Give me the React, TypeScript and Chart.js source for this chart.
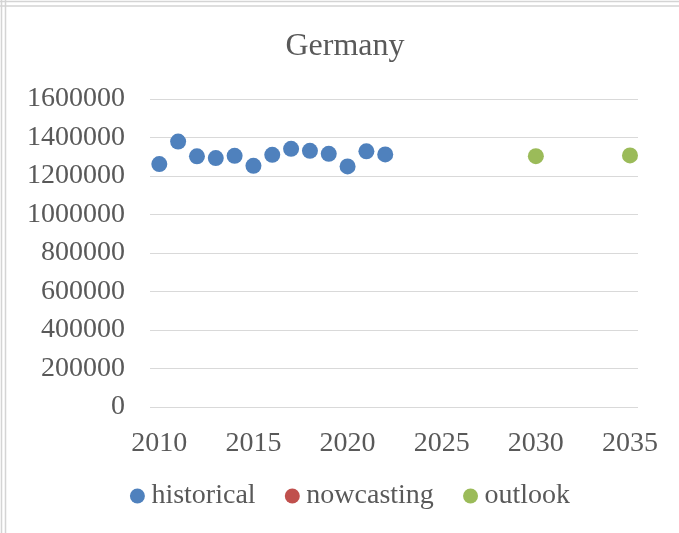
import React, { useEffect, useRef } from "react";
import { Chart, registerables } from "chart.js";

Chart.register(...registerables);

const titleText = "Germany";
const seriesNames = ["historical", "nowcasting", "outlook"];
const seriesColors = ["#4F81BD", "#C0504D", "#9BBB59"];

const historicalYears = [2010, 2011, 2012, 2013, 2014, 2015, 2016, 2017, 2018, 2019, 2020, 2021, 2022];
const historicalValues = [1262000, 1379000, 1302000, 1293000, 1305000, 1253000, 1310000, 1341000, 1331000, 1315000, 1250000, 1328000, 1312000];
const nowcastingYears: number[] = [];
const nowcastingValues: number[] = [];
const outlookYears = [2030, 2035];
const outlookValues = [1303000, 1307000];

const xTicks = [2010, 2015, 2020, 2025, 2030, 2035];
const yTicks = [0, 200000, 400000, 600000, 800000, 1000000, 1200000, 1400000, 1600000];

const FONT = "'Liberation Serif', 'Times New Roman', serif";
const TEXT = "#595959";
const GRID = "#d9d9d9";

const toPoints = (xs: number[], ys: number[]) => xs.map((x, i) => ({ x, y: ys[i] }));

const decorPlugin = {
  id: "decor",
  beforeDraw(chart: any) {
    const ctx = chart.ctx;
    const W = chart.width;
    const H = chart.height;
    ctx.save();
    ctx.fillStyle = "#ffffff";
    ctx.fillRect(0, 0, W, H);
    ctx.strokeStyle = "#d4d4d4";
    ctx.lineWidth = 1.5;
    ctx.beginPath();
    ctx.moveTo(1.5, 0); ctx.lineTo(1.5, H);
    ctx.moveTo(5.5, 0); ctx.lineTo(5.5, H);
    ctx.moveTo(0, 1.5); ctx.lineTo(W, 1.5);
    ctx.moveTo(0, 6); ctx.lineTo(W, 6);
    ctx.stroke();
    ctx.restore();
  },
  afterDraw(chart: any) {
    const ctx = chart.ctx;
    ctx.save();
    // title
    ctx.fillStyle = TEXT;
    ctx.font = `32px ${FONT}`;
    ctx.textAlign = "center";
    ctx.textBaseline = "middle";
    ctx.fillText(titleText, 345, 47);
    // legend
    ctx.font = `28px ${FONT}`;
    ctx.textAlign = "left";
    const r = 7.5;
    const gapText = 14;
    const gapItem = 36.7;
    const widths = seriesNames.map((n) => ctx.measureText(n).width);
    let total = r;
    widths.forEach((w, i) => {
      total += gapText + w;
      if (i < widths.length - 1) total += gapItem;
    });
    const centerX = 350;
    let cx = centerX - total / 2 + r;
    const cy = 496;
    seriesNames.forEach((n, i) => {
      ctx.fillStyle = seriesColors[i];
      ctx.beginPath();
      ctx.arc(cx, cy, r, 0, Math.PI * 2);
      ctx.fill();
      ctx.fillStyle = TEXT;
      ctx.fillText(n, cx + gapText, cy);
      cx = cx + gapText + widths[i] + gapItem;
    });
    ctx.restore();
  },
};

export default function App() {
  const ref = useRef<HTMLCanvasElement | null>(null);
  useEffect(() => {
    document.body.style.margin = "0";
    const canvas = ref.current;
    if (!canvas) return;
    const mk = (label: string, xs: number[], ys: number[], color: string) => ({
      label,
      data: toPoints(xs, ys),
      backgroundColor: color,
      borderColor: color,
      borderWidth: 0,
      pointRadius: 8,
      pointHoverRadius: 8,
      showLine: false,
    });
    const chart = new Chart(canvas, {
      type: "scatter",
      data: {
        datasets: [
          mk(seriesNames[0], historicalYears, historicalValues, seriesColors[0]),
          mk(seriesNames[1], nowcastingYears, nowcastingValues, seriesColors[1]),
          mk(seriesNames[2], outlookYears, outlookValues, seriesColors[2]),
        ],
      },
      options: {
        responsive: false,
        animation: false,
        events: [],
        layout: { padding: { top: 99, right: 41, left: 0, bottom: 0 } },
        plugins: {
          legend: { display: false },
          title: { display: false },
          tooltip: { enabled: false },
        },
        scales: {
          x: {
            type: "linear",
            min: 2009.506,
            max: 2035.425,
            afterBuildTicks: (axis: any) => {
              axis.ticks = xTicks.map((v) => ({ value: v }));
            },
            afterFit: (scale: any) => {
              scale.height = 126;
            },
            grid: { display: false, drawTicks: false },
            border: { display: false },
            ticks: {
              padding: 20,
              color: TEXT,
              font: { family: FONT, size: 28 },
              maxRotation: 0,
              autoSkip: false,
              callback: (v: any) => String(v),
            },
          },
          y: {
            type: "linear",
            min: 0,
            max: 1600000,
            afterBuildTicks: (axis: any) => {
              axis.ticks = yTicks.map((v) => ({ value: v }));
            },
            afterFit: (scale: any) => {
              scale.width = 150;
            },
            grid: { color: GRID, lineWidth: 1, drawTicks: false },
            border: { display: false },
            ticks: {
              padding: 25,
              color: TEXT,
              font: { family: FONT, size: 28 },
              autoSkip: false,
              callback: (v: any) => String(v),
            },
          },
        },
      },
      plugins: [decorPlugin],
    } as any);
    return () => chart.destroy();
  }, []);
  return <canvas ref={ref} width={679} height={533} style={{ display: "block" }} />;
}
